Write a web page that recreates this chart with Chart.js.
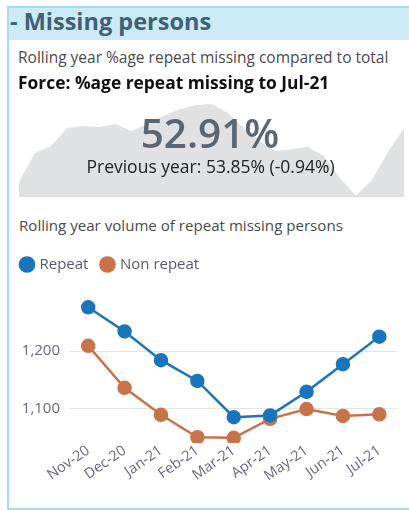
<!DOCTYPE html>
<html>
<head>
<meta charset="utf-8">
<script src="https://cdn.jsdelivr.net/npm/chart.js@4/dist/chart.umd.min.js"></script>
<style>
  body { margin: 0; width: 409px; height: 510px; overflow: hidden; background: #fff; font-family: "Open Sans", sans-serif; position: relative; }
  .panel { position: absolute; left: 7px; top: 6px; width: 410px; height: 500px; border: 2px solid #a3dbf0; border-right: none; }
  .band { position: absolute; left: 0; top: 0; right: 0; height: 32px; background: #cdebf7; }
  .title { position: absolute; left: 1px; top: -3px; font-size: 23.5px; font-weight: 700; color: #3e6175; white-space: nowrap; }
  .txt { position: absolute; white-space: nowrap; }
  canvas { position: absolute; }
</style>
</head>
<body>
<div class="panel"><div class="band"><div class="title">- Missing persons</div></div></div>
<canvas id="spark" style="left:19px; top:100px;" width="385" height="97"></canvas>
<div class="txt" style="left:18px; top:46px; font-size:15.5px; color:#4a4a4a;">Rolling year %age repeat missing compared to total</div>
<div class="txt" style="left:18px; top:70px; font-size:17.4px; font-weight:700; color:#111;">Force: %age repeat missing to Jul-21</div>
<div class="txt" style="left:0; width:420px; text-align:center; top:105px; font-size:40.5px; font-weight:600; color:#5a6670;">52.91%</div>
<div class="txt" style="left:0; width:421px; text-align:center; top:154px; font-size:17.5px; color:#222;">Previous year: 53.85% (-0.94%)</div>
<div class="txt" style="left:19px; top:215px; font-size:15.1px; color:#4a4a4a;">Rolling year volume of repeat missing persons</div>
<canvas id="chart" style="left:8px; top:243px;" width="398" height="262"></canvas>
<script>
const months = ['Nov-20', 'Dec-20', 'Jan-21', 'Feb-21', 'Mar-21', 'Apr-21', 'May-21', 'Jun-21', 'Jul-21']
const repeat = [1276, 1234, 1184, 1148, 1085, 1088, 1129, 1177, 1225]
const nonRepeat = [1209, 1136, 1089, 1050, 1049, 1082, 1099, 1087, 1090]
const yTicks = [1100, 1200]

// background sparkline of the rolling %age
const sparkPct = [51.03, 52.04, 52.29, 52.92, 52.99, 52.95, 53.06, 52.81, 53.06, 53.34, 53.58, 53.72,
  53.76, 53.44, 52.92, 52.46, 52.11, 52.18, 52.25, 51.94, 51.17, 50.54, 51.10, 52.08, 52.91]

const blue = '#1a75bb'
const orange = '#c8734a'

new Chart(document.querySelector('#spark'), {
  type: 'line',
  data: {
    labels: sparkPct.map((v, i) => i),
    datasets: [{
      data: sparkPct,
      fill: 'start',
      backgroundColor: '#e0e1e2',
      borderWidth: 0,
      pointRadius: 0,
      tension: 0
    }]
  },
  options: {
    responsive: false,
    animation: false,
    plugins: { legend: { display: false }, tooltip: { enabled: false } },
    layout: { padding: 0 },
    scales: {
      x: { display: false },
      y: { display: false, min: 50.5, max: 53.9 }
    }
  }
})

const ser = (label, data, color) => ({
  label,
  data,
  borderColor: color,
  backgroundColor: color,
  pointBackgroundColor: color,
  pointBorderColor: color,
  pointRadius: 6,
  borderWidth: 2.5,
  tension: 0
})

new Chart(document.querySelector('#chart'), {
  type: 'line',
  data: {
    labels: months,
    datasets: [ser('Repeat', repeat, blue), ser('Non repeat', nonRepeat, orange)]
  },
  options: {
    responsive: false,
    animation: false,
    layout: { padding: 0 },
    plugins: {
      tooltip: { enabled: false },
      legend: {
        position: 'top',
        align: 'start',
        labels: {
          usePointStyle: true,
          pointStyle: 'circle',
          boxWidth: 10,
          boxHeight: 10,
          padding: 14,
          color: '#5a5870',
          font: { family: 'Open Sans', size: 15 }
        }
      }
    },
    scales: {
      x: {
        offset: true,
        grid: { display: false },
        border: { display: false },
        afterFit: s => { s.height = 62 },
        ticks: {
          autoSkip: false,
          minRotation: 35,
          maxRotation: 35,
          padding: -9,
          color: '#6a6880',
          font: { family: 'Open Sans', size: 14.5 }
        }
      },
      y: {
        min: 1040,
        max: 1320,
        afterBuildTicks: axis => { axis.ticks = yTicks.map(v => ({ value: v })) },
        afterFit: s => { s.width = 62 },
        grid: { color: '#e6e6e6', drawTicks: false },
        border: { display: false },
        ticks: {
          padding: 10,
          color: '#6a6880',
          font: { family: 'Open Sans', size: 15 }
        }
      }
    }
  }
})
</script>
</body>
</html>
